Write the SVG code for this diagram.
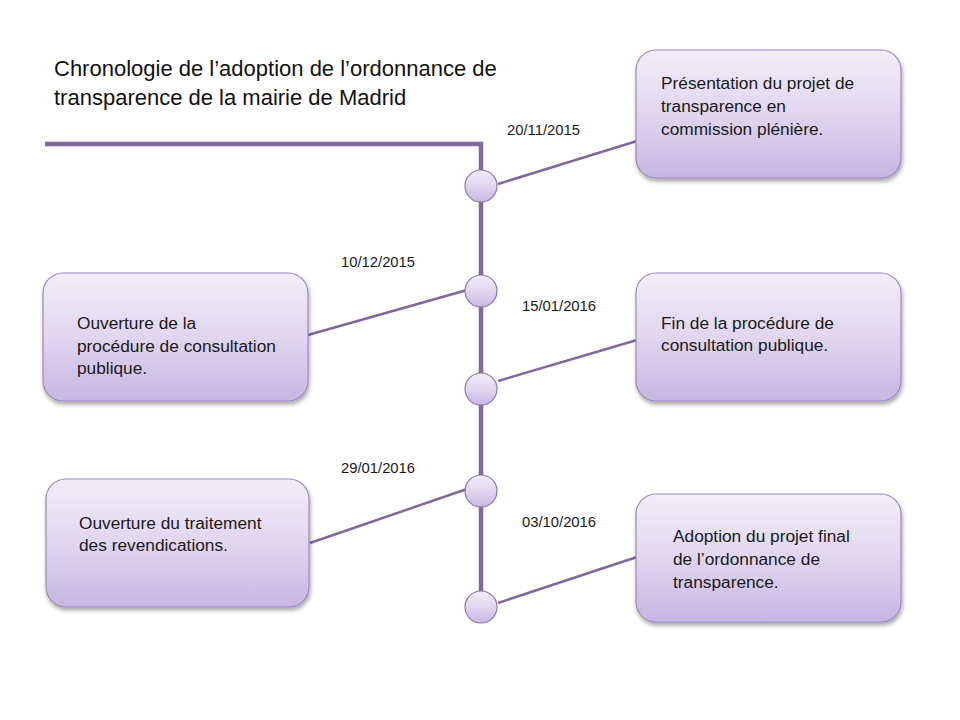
<svg xmlns="http://www.w3.org/2000/svg" width="960" height="720" viewBox="0 0 960 720">
<defs>
<linearGradient id="g" x1="0" y1="0" x2="0" y2="1">
<stop offset="0" stop-color="#F1EDF8"/>
<stop offset="0.5" stop-color="#E0D6EF"/>
<stop offset="1" stop-color="#C7B6E2"/>
</linearGradient>
<filter id="sh" x="-10%" y="-10%" width="130%" height="130%">
<feGaussianBlur in="SourceAlpha" stdDeviation="2"/>
<feOffset dx="1" dy="3" result="b"/>
<feComponentTransfer><feFuncA type="linear" slope="0.35"/></feComponentTransfer>
<feMerge><feMergeNode/><feMergeNode in="SourceGraphic"/></feMerge>
</filter>
</defs>
<style>
.box{fill:url(#g);stroke:#9C88C0;stroke-width:1.2;filter:url(#sh)}
.dot{fill:url(#g);stroke:#8C78B0;stroke-width:1.2}
.t{font-family:"Liberation Sans",Arial,sans-serif;font-size:17.3px;fill:#1a1a1a}
.d{font-family:"Liberation Sans",Arial,sans-serif;font-size:14.8px;fill:#1a1a1a}
.ttl{font-family:"Liberation Sans",Arial,sans-serif;font-size:22px;fill:#111}
.c{stroke:#7F679F;stroke-width:2.5;fill:none}
.spine{stroke:#7F679F;stroke-width:4.5;fill:none}
</style>
<rect width="960" height="720" fill="#fff"/>
<g id="title">
<text class="ttl" x="54" y="76">Chronologie de l’adoption de l’ordonnance de</text>
<text class="ttl" x="54" y="105">transparence de la mairie de Madrid</text>
</g>
<g id="connectors">
<polyline class="spine" points="45,144 481,144 481,608"/>
<line class="c" x1="498" y1="184" x2="637" y2="141"/>
<line class="c" x1="308" y1="335" x2="467" y2="290"/>
<line class="c" x1="498" y1="381" x2="637" y2="340"/>
<line class="c" x1="310" y1="543" x2="467" y2="489"/>
<line class="c" x1="498" y1="603" x2="637" y2="557"/>
</g>
<g id="dates">
<text class="d" x="507" y="135">20/11/2015</text>
<text class="d" x="341" y="267">10/12/2015</text>
<text class="d" x="522" y="311">15/01/2016</text>
<text class="d" x="341" y="473">29/01/2016</text>
<text class="d" x="522" y="527">03/10/2016</text>
</g>
<g id="dot1"><circle class="dot" cx="481" cy="186" r="16"/></g>
<g id="dot2"><circle class="dot" cx="481" cy="291" r="16"/></g>
<g id="dot3"><circle class="dot" cx="481" cy="389" r="16"/></g>
<g id="dot4"><circle class="dot" cx="481" cy="491" r="16"/></g>
<g id="dot5"><circle class="dot" cx="481" cy="607" r="16"/></g>
<g id="n1">
<rect class="box" x="636" y="50" width="265" height="128" rx="20"/>
<text class="t" x="661" y="89">Présentation du projet de</text>
<text class="t" x="661" y="112">transparence en</text>
<text class="t" x="661" y="135">commission plénière.</text>
</g>
<g id="n2">
<rect class="box" x="43" y="273" width="265" height="128" rx="20"/>
<text class="t" x="77" y="329">Ouverture de la</text>
<text class="t" x="77" y="352">procédure de consultation</text>
<text class="t" x="77" y="374">publique.</text>
</g>
<g id="n3">
<rect class="box" x="636" y="273" width="265" height="128" rx="20"/>
<text class="t" x="661" y="329">Fin de la procédure de</text>
<text class="t" x="661" y="351">consultation publique.</text>
</g>
<g id="n4">
<rect class="box" x="46" y="479" width="263" height="128" rx="20"/>
<text class="t" x="79" y="529">Ouverture du traitement</text>
<text class="t" x="79" y="551">des revendications.</text>
</g>
<g id="n5">
<rect class="box" x="636" y="494" width="265" height="128" rx="20"/>
<text class="t" x="673" y="542">Adoption du projet final</text>
<text class="t" x="673" y="565">de l’ordonnance de</text>
<text class="t" x="673" y="588">transparence.</text>
</g>
</svg>
